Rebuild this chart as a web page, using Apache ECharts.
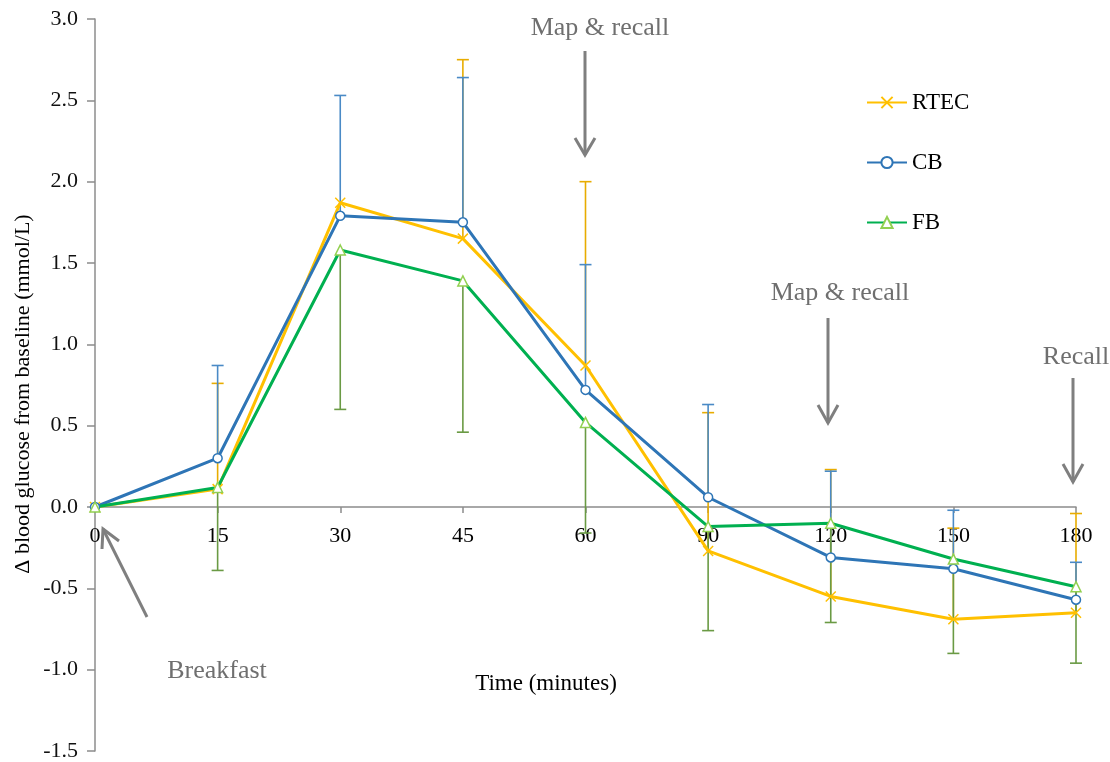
<!DOCTYPE html>
<html>
<head>
<meta charset="utf-8">
<script src="https://cdn.jsdelivr.net/npm/echarts@6/dist/echarts.min.js"></script>
<style>
  html, body { margin: 0; padding: 0; background: #fff; }
  #chart { width: 1110px; height: 762px; }
</style>
</head>
<body>
<div id="chart"></div>
<script>
// Sampling times after breakfast (minutes)
const timePoints = ['0', '15', '30', '45', '60', '90', '120', '150', '180'];

// Mean change in blood glucose from baseline (mmol/L)
const rtecMean = [0, 0.11, 1.87, 1.65, 0.87, -0.27, -0.55, -0.69, -0.65];
const cbMean   = [0, 0.30, 1.79, 1.75, 0.72, 0.06, -0.31, -0.38, -0.57];
const fbMean   = [0, 0.12, 1.58, 1.39, 0.52, -0.12, -0.10, -0.32, -0.49];

// Error bar ends (upper for RTEC and CB, lower for FB); null = no bar drawn
const rtecUpper = [null, 0.76, null, 2.75, 2.00, 0.58, 0.23, -0.13, -0.04];
const cbUpper   = [null, 0.87, 2.53, 2.64, 1.49, 0.63, 0.22, -0.02, -0.34];
const fbLower   = [null, -0.39, 0.60, 0.46, -0.16, -0.76, -0.71, -0.90, -0.96];

const yTicks = { min: -1.5, max: 3.0, step: 0.5 };

const SERIF = 'Liberation Serif, Times New Roman, serif';
const GREY = '#7f7f7f';

const gridBox = { left: 95, right: 34, top: 19, bottom: 11 };
const plotHeight = 762 - gridBox.top - gridBox.bottom;
// Lift the category axis from the bottom edge up to the zero line
const zeroLift = plotHeight * (0 - yTicks.min) / (yTicks.max - yTicks.min);

function errorData(mean, end) {
  const out = [];
  mean.forEach((m, i) => { if (end[i] !== null) out.push([i, m, end[i]]); });
  return out;
}

function errorSeries(name, mean, end, color) {
  return {
    type: 'custom',
    name: name + ' error',
    z: 1,
    silent: true,
    data: errorData(mean, end),
    renderItem: function (params, api) {
      const i = api.value(0);
      const from = api.coord([i, api.value(1)]);
      const to = api.coord([i, api.value(2)]);
      const half = 6;
      const style = { stroke: color, lineWidth: 1.6 };
      return {
        type: 'group',
        children: [
          { type: 'line', shape: { x1: from[0], y1: from[1], x2: to[0], y2: to[1] }, style: style },
          { type: 'line', shape: { x1: to[0] - half, y1: to[1], x2: to[0] + half, y2: to[1] }, style: style }
        ]
      };
    }
  };
}

const crossPath = 'path://M0,0L10,10M10,0L0,10';

function lineSeries(name, data, lineColor, symbol, markerColor, size) {
  return {
    type: 'line',
    name: name,
    z: 3,
    data: data,
    symbol: symbol,
    symbolSize: size,
    showSymbol: true,
    lineStyle: { color: lineColor, width: 3 },
    itemStyle: { color: symbol === crossPath ? 'rgba(0,0,0,0)' : '#fff', borderColor: markerColor, borderWidth: 1.5 },
    emphasis: { disabled: true }
  };
}

// Annotation arrows drawn as a shaft plus an open V head
function arrow(x1, y1, x2, y2, w1, w2) {
  return [
    { type: 'polyline', shape: { points: [[x1, y1], [x2, y2]] }, style: { stroke: GREY, lineWidth: 3, fill: null } },
    { type: 'polyline', shape: { points: [w1, [x2, y2], w2] }, style: { stroke: GREY, lineWidth: 3, fill: null } }
  ];
}

function note(text, cx, cy) {
  return {
    type: 'text', x: cx, y: cy,
    style: { text: text, font: '26px ' + SERIF, fill: '#6f6f6f', align: 'center', verticalAlign: 'middle' }
  };
}

const chart = echarts.init(document.getElementById('chart'), null, { renderer: 'canvas' });

chart.setOption({
  animation: false,
  backgroundColor: '#fff',
  grid: Object.assign({ containLabel: false, outerBoundsMode: 'none' }, gridBox),
  legend: {
    orient: 'vertical',
    left: 861, top: 86,
    itemWidth: 40, itemHeight: 14, itemGap: 37,
    textStyle: { fontFamily: SERIF, fontSize: 23, color: '#000' },
    data: ['RTEC', 'CB', 'FB']
  },
  xAxis: {
    type: 'category',
    data: timePoints,
    boundaryGap: false,
    offset: -zeroLift,
    axisLine: { onZero: false, lineStyle: { color: '#8c8c8c', width: 1.5 } },
    axisTick: { show: true, inside: false, length: 6, alignWithLabel: true, lineStyle: { color: '#8c8c8c', width: 1.5 } },
    axisLabel: { fontFamily: SERIF, fontSize: 22, color: '#000', margin: 18, interval: 0 },
    splitLine: { show: false }
  },
  yAxis: {
    type: 'value',
    min: yTicks.min, max: yTicks.max, interval: yTicks.step,
    axisLine: { show: true, lineStyle: { color: '#8c8c8c', width: 1.5 } },
    axisTick: { show: true, inside: false, length: 8, lineStyle: { color: '#8c8c8c', width: 1.5 } },
    axisLabel: { fontFamily: SERIF, fontSize: 22, color: '#111', margin: 17, formatter: v => v.toFixed(1) },
    splitLine: { show: false }
  },
  series: [
    errorSeries('RTEC', rtecMean, rtecUpper, '#e8ac00'),
    errorSeries('CB', cbMean, cbUpper, '#4a8ac6'),
    errorSeries('FB', fbMean, fbLower, '#6a9a44'),
    lineSeries('RTEC', rtecMean, '#ffc000', crossPath, '#ffc000', 10),
    lineSeries('CB', cbMean, '#2e75b6', 'circle', '#2e75b6', 9),
    lineSeries('FB', fbMean, '#00b050', 'triangle', '#92d050', 10)
  ],
  graphic: [
    note('Map & recall', 600, 28),
    note('Map & recall', 840, 293),
    note('Recall', 1076, 357),
    note('Breakfast', 217, 671),
    {
      type: 'text', x: 546, y: 684,
      style: { text: 'Time (minutes)', font: '23px ' + SERIF, fill: '#000', align: 'center', verticalAlign: 'middle' }
    },
    {
      type: 'text', x: 23, y: 394, rotation: Math.PI / 2,
      style: { text: 'Δ blood glucose from baseline (mmol/L)', font: '22px ' + SERIF, fill: '#000', align: 'center', verticalAlign: 'middle' }
    },
    ...arrow(585, 51, 585, 155, [575, 138], [595, 138]),
    ...arrow(828, 318, 828, 423, [818, 405], [838, 405]),
    ...arrow(1073, 378, 1073, 482, [1063, 464], [1083, 464]),
    ...arrow(147, 617, 103, 529, [102, 549], [119, 541])
  ]
});
</script>
</body>
</html>
